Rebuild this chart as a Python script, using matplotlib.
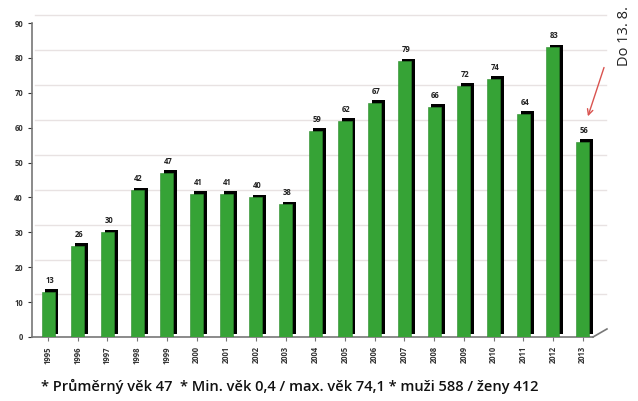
import matplotlib
matplotlib.use('Agg')
import matplotlib.pyplot as plt

# data
years = ['1995', '1996', '1997', '1998', '1999', '2000', '2001', '2002', '2003', '2004',
         '2005', '2006', '2007', '2008', '2009', '2010', '2011', '2012', '2013']
counts = [13, 26, 30, 42, 47, 41, 41, 40, 38, 59, 62, 67, 79, 66, 72, 74, 64, 83, 56]
yticks = [0, 10, 20, 30, 40, 50, 60, 70, 80, 90]
caption = '* Průměrný věk 47  * Min. věk 0,4 / max. věk 74,1 * muži 588 / ženy 412'
side_note = 'Do 13. 8.'

plt.rcParams['font.family'] = ['Open Sans', 'DejaVu Sans']

fig = plt.figure(figsize=(6.38, 4.01), dpi=100)
ax = fig.add_axes([32 / 638, 64 / 401, 561 / 638, 314 / 401])

x = list(range(len(years)))

# back-wall gridlines (slightly shifted up, 3D look)
for t in yticks[1:]:
    ax.plot([-0.45, 18.8], [t + 2.2, t + 2.2], color='#e8e2e2', lw=1, zorder=0, clip_on=False)

# black depth of bars, then green front
ax.bar([i + 0.13 for i in x], counts, width=0.44, bottom=0.8, color='black', zorder=2)
ax.bar(x, counts, width=0.44, color='#36a336', edgecolor='#2a8a2a', lw=0.4, zorder=3)

for i, v in zip(x, counts):
    ax.text(i + 0.05, v + 2.0, str(v), ha='center', va='bottom', fontsize=5.5,
            fontweight='bold', color='#222222', zorder=4)

ax.set_xlim(-0.54, 18.35)
ax.set_ylim(0, 90)
ax.set_yticks(yticks)
ax.set_xticks(x)
ax.set_xticklabels(years, rotation=90, fontsize=5.5, fontweight='bold', color='#333333')
ax.tick_params(axis='y', labelsize=5.5, colors='#333333', length=3, width=0.8)
ax.tick_params(axis='x', length=3, width=0.8, colors='#777777', labelcolor='#333333')
for lbl in ax.get_yticklabels():
    lbl.set_fontweight('bold')

ax.spines['top'].set_visible(False)
ax.spines['right'].set_visible(False)
ax.spines['left'].set_color('#777777')
ax.spines['bottom'].set_color('#777777')
ax.spines['left'].set_linewidth(1.2)
ax.spines['bottom'].set_linewidth(1.2)

# floor edge on the right
ax.plot([18.35, 18.82], [0, 2.3], color='#777777', lw=1.2, clip_on=False)

# red arrow to the last bar
ax.annotate('', xy=(18.15, 62.5), xytext=(18.75, 78),
            arrowprops=dict(arrowstyle='->', color='#d9534f', lw=1.0))

fig.text(625 / 638, 1 - 66 / 401, side_note, rotation=90, ha='center', va='bottom',
         fontsize=10.5, color='#222222')
fig.text(290 / 638, 1 - 386 / 401, caption, ha='center', va='center',
         fontsize=10.5, fontweight='semibold', color='#111111')

fig.savefig('out.png', dpi=100, facecolor='white')
